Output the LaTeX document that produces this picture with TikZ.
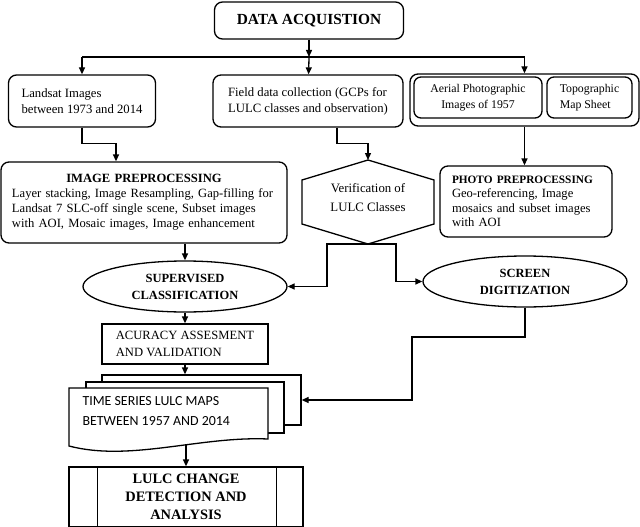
\documentclass[tikz,border=0pt]{standalone}
\usepackage{fontspec}
\setmainfont{Liberation Serif}
\newfontfamily\mapfont{Carlito}
\usetikzlibrary{arrows.meta, shapes.geometric, positioning, calc}

\tikzset{
  rbox/.style={draw, rounded corners=8pt, line width=1.3pt, inner sep=0pt},
  sbox/.style={draw, line width=1.3pt, inner sep=0pt},
  oval/.style={draw, ellipse, line width=1.3pt, inner sep=0pt, minimum width=204pt, minimum height=51pt, align=center, font=\fontsize{12.5}{17}\selectfont\bfseries},
  arr/.style={-{Triangle[length=7pt,width=6pt]}, line width=1.3pt},
  conn/.style={line width=1.3pt},
}

\begin{document}
\begin{tikzpicture}[x=1pt, y=-1pt]
	\useasboundingbox (0,0) rectangle (640,527);
	% acquisition row
	\node[rbox, minimum width=189pt, minimum height=37pt, font=\fontsize{15.4}{18}\selectfont\bfseries] (acq) at (309,20.5) {DATA ACQUISTION};
	\coordinate (split) at (309,57);
	\node[rbox, minimum width=147pt, minimum height=52pt, align=left, font=\rmfamily\fontsize{12.7}{16}\selectfont] (landsat) at (82,101) {Landsat Images\\between 1973 and 2014};
	\node[rbox, minimum width=190pt, minimum height=52pt, align=left, font=\rmfamily\fontsize{12.7}{16}\selectfont] (field) at (308,101) {Field data collection (GCPs for\\LULC classes and observation)};
	\node[rbox, minimum width=229pt, minimum height=52pt] (photos) at (524.5,100) {};
	\node[rbox, rounded corners=7pt, minimum width=128pt, minimum height=41pt, align=center, font=\rmfamily\fontsize{11.8}{16}\selectfont] (aerial) at (478,97.5) {Aerial Photographic\\Images of 1957};
	\node[rbox, rounded corners=7pt, minimum width=85pt, minimum height=41pt, align=left, font=\rmfamily\fontsize{11.8}{16}\selectfont] (topo) at (589.5,97.5) {Topographic\\Map Sheet};
	% preprocessing row
	\node[rbox, minimum width=286pt, minimum height=81pt, text width=264pt, align=left, font=\rmfamily\fontsize{12.6}{15}\selectfont] (imgprep) at (144,202.5) {\makebox[\linewidth]{\bfseries IMAGE PREPROCESSING}\\Layer stacking, Image Resampling, Gap-filling for\\Landsat 7 SLC-off single scene, Subset images\\with AOI, Mosaic images, Image enhancement};
	\node[align=center, font=\rmfamily\fontsize{12.8}{19}\selectfont] (verif) at (368,198) {Verification of\\LULC Classes};
	\coordinate (hextop) at (368,160);
	\coordinate (hexbot) at (368,244);
	\draw[conn] (hextop) -- (434,180) -- (434,224) -- (hexbot) -- (302,224) -- (302,180) -- cycle;
	\node[rbox, minimum width=172pt, minimum height=71pt, text width=148pt, align=left, font=\rmfamily\fontsize{12.6}{14.5}\selectfont] (photoprep) at (526,201.5) {{\fontsize{11.3}{14}\selectfont\bfseries PHOTO PREPROCESSING}\\Geo-referencing, Image\\mosaics and subset images\\with AOI};
	% classification row
	\node[oval] (superv) at (185,286.5) {SUPERVISED\\CLASSIFICATION};
	\node[oval] (screen) at (525,281.5) {SCREEN\\DIGITIZATION};
	% output
	\node[sbox, minimum width=166pt, minimum height=40pt, align=left, font=\rmfamily\fontsize{12.6}{17}\selectfont] (accur) at (185,344) {ACURACY ASSESMENT\\AND VALIDATION};
	\node[sbox, minimum width=199pt, minimum height=50pt] (sheetc) at (201.5,400) {};
	\node[sbox, fill=white, minimum width=198pt, minimum height=51pt] (sheetb) at (185,407.5) {};
	\filldraw[conn, fill=white] (69,388) -- (268,388) -- (268,439) .. controls (200,436) and (130,462) .. (69,446) -- cycle;
	\node[anchor=west, align=left, font=\mapfont\fontsize{13.9}{20}\selectfont] (maps) at (79,411) {TIME SERIES LULC MAPS\\BETWEEN 1957 AND 2014};
	\coordinate (mapsbot) at (186,445);
	\node[sbox, minimum width=234pt, minimum height=60pt, align=center, font=\fontsize{14.4}{18}\selectfont\bfseries] (change) at (186,497) {LULC CHANGE\\DETECTION AND\\ANALYSIS};
	\draw[conn] ([xshift=29pt]change.north west) -- ([xshift=29pt]change.south west);
	\draw[conn] ([xshift=-27pt]change.north east) -- ([xshift=-27pt]change.south east);
	% connectors
	\draw[arr] (acq) -- (split);
	\draw[conn] (split -| landsat) -- (split -| photos);
	\draw[arr] (split -| landsat) -- (landsat);
	\draw[arr] (split) -- (field);
	\draw[arr] (split -| photos) -- (photos);
	\draw[arr] (landsat.south) -- ++(0,16) -| ([xshift=-28pt]imgprep.north);
	\draw[arr] ([xshift=29pt]field.south) -- ++(0,16) -| (hextop);
	\draw[arr] (photos.south) -- (photos.south |- photoprep.north);
	\draw[arr] (superv.north |- imgprep.south) -- (superv.north);
	\draw[arr] (hexbot) -- ++(-41,0) |- (superv.east);
	\draw[arr] (hexbot) -- ++(28,0) |- (screen.west);
	\draw[arr] (superv) -- (accur);
	\draw[arr] (accur.south) -- (accur.south |- sheetc.north);
	\coordinate (bend) at (412,337);
	\draw[arr] (screen.south) |- (bend) |- (sheetc.east);
	\draw[arr] (mapsbot) -- (mapsbot |- change.north);
\end{tikzpicture}
\end{document}
